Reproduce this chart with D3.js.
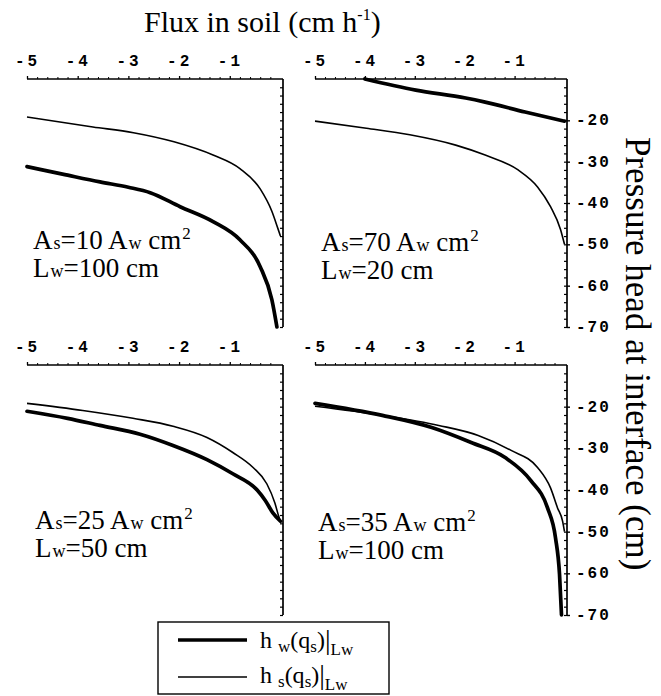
<!DOCTYPE html>
<html><head><meta charset="utf-8">
<script src="https://cdn.jsdelivr.net/npm/d3@7"></script>
<style>body{margin:0;background:#fff}svg{display:block}</style>
</head><body><svg id="c" width="661" height="696"></svg>
<script>
// ---------- data ----------
const xTickValues = [-5, -4, -3, -2, -1];
const yTickValues = [-20, -30, -40, -50, -60, -70];

// Panel 1 (top-left): As=10 Aw, Lw=100
const p1HwQ = [-5, -4.3, -3.56, -3, -2.57, -1.98, -1.33, -0.8, -0.4, -0.17, -0.07];
const p1HwH = [-31.2, -33.0, -34.9, -36.2, -37.5, -40.9, -44.5, -48.9, -55.4, -63.4, -70];
const p1HsQ = [-5, -3.7, -2.9, -2.1, -1.33, -0.8, -0.4, -0.17, -0.05, 0];
const p1HsH = [-19.2, -21.6, -23.0, -25.2, -28.4, -31.7, -36.6, -42, -46.2, -48];

// Panel 2 (top-right): As=70 Aw, Lw=20
const p2HwQ = [-4, -2.98, -1.98, -1.59, -0.79, 0];
const p2HwH = [-10, -12.7, -14.6, -15.6, -18.0, -20.2];
const p2HsQ = [-5, -3.97, -3.1, -2.18, -1.59, -0.93, -0.54, -0.28, -0.08, 0];
const p2HsH = [-20.2, -21.9, -23.5, -26, -28.4, -32, -36.1, -40.9, -46.4, -50];

// Panel 3 (bottom-left): As=25 Aw, Lw=50
const p3HwQ = [-5, -4.2, -3.56, -2.77, -2.12, -1.45, -0.94, -0.46, -0.3, -0.15, 0];
const p3HwH = [-21.1, -22.8, -24.5, -26.6, -29.3, -32.7, -36.1, -40, -42.5, -45.5, -47.5];
const p3HsQ = [-5, -3.9, -2.91, -2.12, -1.45, -0.94, -0.54, -0.27, -0.11, -0.03, 0];
const p3HsH = [-19.2, -20.9, -22.8, -24.7, -27.4, -31.0, -34.6, -38.5, -43.1, -46.5, -47.5];

// Panel 4 (bottom-right): As=35 Aw, Lw=100
const p4HwQ = [-5, -3.65, -2.66, -1.87, -1.19, -0.67, -0.34, -0.18, -0.1, -0.06];
const p4HwH = [-19.2, -22.1, -25.0, -28.6, -32.2, -37.8, -44.3, -51.5, -60.2, -70];
const p4HsQ = [-5, -3.65, -2.52, -1.73, -1.07, -0.54, -0.28, -0.14, -0.04, 0];
const p4HsH = [-19.9, -22.1, -24.5, -26.9, -30.5, -34.6, -39.5, -44.3, -47.4, -50];

const p1As = "10", p1Lw = "100";
const p2As = "70", p2Lw = "20";
const p3As = "25", p3Lw = "50";
const p4As = "35", p4Lw = "100";

const titleText = "Flux in soil (cm h";
const yTitleText = "Pressure head at interface (cm)";

// ---------- drawing ----------
const svg = d3.select("#c");
const serif = "'Liberation Serif','Times New Roman',serif";
const mono = "'Liberation Mono','Courier New',monospace";

const panels = [
  {x0: 27, x1: 283, y0: 79, y1: 327, hwQ: p1HwQ, hwH: p1HwH, hsQ: p1HsQ, hsH: p1HsH, as: p1As, lw: p1Lw, labels: false, tx: 33, ty: 249},
  {x0: 315, x1: 567, y0: 79, y1: 327, hwQ: p2HwQ, hwH: p2HwH, hsQ: p2HsQ, hsH: p2HsH, as: p2As, lw: p2Lw, labels: true, tx: 321, ty: 251},
  {x0: 27, x1: 283, y0: 365, y1: 615, hwQ: p3HwQ, hwH: p3HwH, hsQ: p3HsQ, hsH: p3HsH, as: p3As, lw: p3Lw, labels: false, tx: 35, ty: 529},
  {x0: 315, x1: 567, y0: 365, y1: 615, hwQ: p4HwQ, hwH: p4HwH, hsQ: p4HsQ, hsH: p4HsH, as: p4As, lw: p4Lw, labels: true, tx: 318, ty: 531}
];

panels.forEach((p, i) => {
  const x = d3.scaleLinear().domain([-5, 0.05]).range([p.x0, p.x1]);
  const y = d3.scaleLinear().domain([-10, -70]).range([p.y0, p.y1]);
  const g = svg.append("g");

  // top axis
  const topAxis = d3.axisTop(x).tickValues(xTickValues).tickSize(3).tickFormat("");
  g.append("g").attr("transform", `translate(0,${p.y0})`).call(topAxis)
    .call(s => { s.select(".domain").remove(); s.selectAll("line").attr("stroke", "#000").attr("stroke-width", 1.3); });
  const minorX = d3.range(-4.8, 0.01, 0.2).filter(v => Math.abs(v - Math.round(v)) > 0.01);
  g.append("g").attr("transform", `translate(0,${p.y0})`)
    .call(d3.axisTop(x).tickValues(minorX).tickSize(2).tickFormat(""))
    .call(s => { s.select(".domain").remove(); s.selectAll("line").attr("stroke", "#000"); });
  g.append("line").attr("x1", x(-5)).attr("x2", x(0.05)).attr("y1", p.y0).attr("y2", p.y0)
    .attr("stroke", "#000").attr("stroke-width", 1.7);
  // top tick labels
  g.selectAll("text.xl").data(xTickValues).join("text")
    .attr("x", d => x(d) - 12).attr("y", p.y0 - 13)
    .attr("font-family", mono).attr("font-weight", "bold").attr("font-size", 16)
    .selectAll("tspan").data(d => ["-", String(Math.abs(d))]).join("tspan")
    .attr("dx", (d, j) => j === 0 ? 0 : 3).text(d => d);

  // right axis
  const minorY = d3.range(-12, -70.1, -2);
  g.append("g").attr("transform", `translate(${p.x1},0)`)
    .call(d3.axisLeft(y).tickValues(minorY).tickSize(3).tickFormat(""))
    .call(s => { s.select(".domain").remove(); s.selectAll("line").attr("stroke", "#000").attr("stroke-width", 1.2); });
  g.append("g").attr("transform", `translate(${p.x1},0)`)
    .call(d3.axisRight(y).tickValues(yTickValues).tickSize(p.labels ? 3 : 0).tickFormat(""))
    .call(s => { s.select(".domain").remove(); s.selectAll("line").attr("stroke", "#000").attr("stroke-width", 1.4); });
  g.append("line").attr("x1", p.x1).attr("x2", p.x1).attr("y1", p.y0).attr("y2", p.y1)
    .attr("stroke", "#000").attr("stroke-width", 1.7);
  if (p.labels) {
    g.selectAll("text.yl").data(yTickValues).join("text")
      .attr("x", p.x1 + 9).attr("y", d => y(d) + 5)
      .attr("font-family", mono).attr("font-weight", "bold").attr("font-size", 16)
      .selectAll("tspan").data(d => ["-", String(Math.abs(d))[0], String(Math.abs(d))[1]]).join("tspan")
      .attr("dx", (d, j) => j === 0 ? 0 : 2).text(d => d);
  }

  // curves
  const line = d3.line().x(d => x(d[0])).y(d => y(d[1])).curve(d3.curveMonotoneX);
  const hs = p.hsQ.map((q, k) => [q, p.hsH[k]]);
  const hw = p.hwQ.map((q, k) => [q, p.hwH[k]]);
  g.append("path").attr("d", line(hs)).attr("fill", "none").attr("stroke", "#000").attr("stroke-width", 1.6);
  g.append("path").attr("d", line(hw)).attr("fill", "none").attr("stroke", "#000").attr("stroke-width", 3.7)
    .attr("stroke-linecap", "round");

  // annotation
  const t1 = g.append("text").attr("x", p.tx).attr("y", p.ty)
    .attr("font-family", serif).attr("font-size", 27);
  t1.append("tspan").text("A");
  t1.append("tspan").attr("font-size", 18).attr("dx", 1).text("s");
  t1.append("tspan").text("=" + p.as + " A");
  t1.append("tspan").attr("font-size", 18).attr("dx", 1).text("w");
  t1.append("tspan").text(" cm");
  t1.append("tspan").attr("font-size", 17).attr("dx", 1).attr("dy", -10).text("2");
  const t2 = g.append("text").attr("x", p.tx).attr("y", p.ty + 28)
    .attr("font-family", serif).attr("font-size", 27);
  t2.append("tspan").text("L");
  t2.append("tspan").attr("font-size", 18).attr("dx", 1).text("w");
  t2.append("tspan").text("=" + p.lw + " cm");
});

// title
const tt = svg.append("text").attr("x", 144).attr("y", 32)
  .attr("font-family", serif).attr("font-size", 30);
tt.append("tspan").text(titleText);
tt.append("tspan").attr("font-size", 16).attr("dy", -12).text("-1");
tt.append("tspan").attr("dy", 12).text(")");

// right axis title
svg.append("text").attr("transform", "translate(626,137) rotate(90)")
  .attr("font-family", serif).attr("font-size", 35).text(yTitleText);

// legend
const lg = svg.append("g");
lg.append("rect").attr("x", 158).attr("y", 622).attr("width", 231).attr("height", 72)
  .attr("fill", "#fff").attr("stroke", "#000").attr("stroke-width", 1.4);
lg.append("line").attr("x1", 178).attr("x2", 247).attr("y1", 640).attr("y2", 640)
  .attr("stroke", "#000").attr("stroke-width", 3.7);
lg.append("line").attr("x1", 178).attr("x2", 247).attr("y1", 677).attr("y2", 677)
  .attr("stroke", "#000").attr("stroke-width", 1.6);
[["w", 648], ["s", 683]].forEach(([sub, yy]) => {
  const t = lg.append("text").attr("x", 260).attr("y", yy).attr("font-family", serif).attr("font-size", 24);
  t.append("tspan").text("h ");
  t.append("tspan").attr("font-size", 17).attr("dy", 4).text(sub);
  t.append("tspan").attr("dy", -4).text("(q");
  t.append("tspan").attr("font-size", 17).attr("dy", 4).text("s");
  t.append("tspan").attr("dy", -4).text(")");
  t.append("tspan").attr("font-size", 28).attr("dy", 1).text("|");
  t.append("tspan").attr("font-size", 17).attr("dy", 6).text("Lw");
});
</script></body></html>
